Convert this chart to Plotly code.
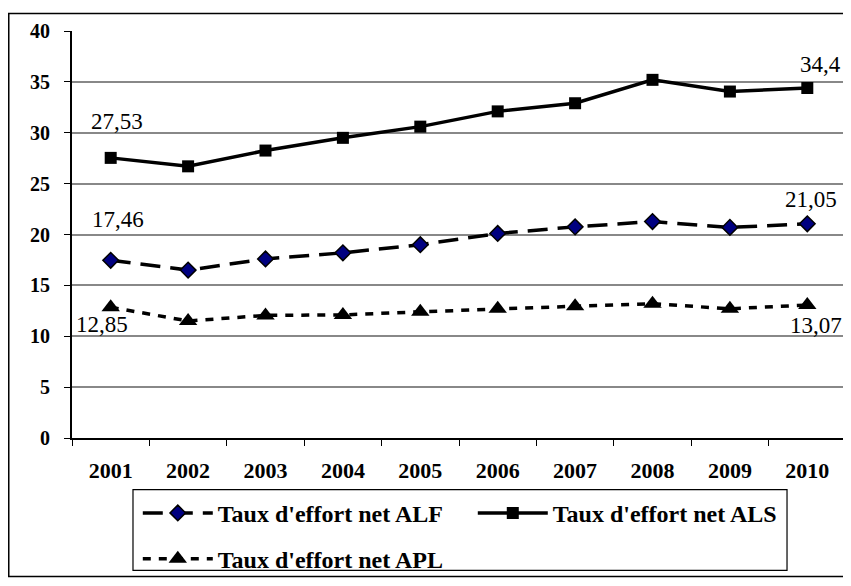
import plotly.graph_objects as go

years = ["2001", "2002", "2003", "2004", "2005", "2006", "2007", "2008", "2009", "2010"]
alf = [17.46, 16.5, 17.6, 18.2, 19.0, 20.1, 20.75, 21.27, 20.7, 21.05]
als = [27.53, 26.7, 28.25, 29.5, 30.6, 32.1, 32.9, 35.2, 34.05, 34.4]
apl = [12.85, 11.5, 12.05, 12.1, 12.4, 12.7, 12.95, 13.2, 12.7, 13.07]
y_ticks = [0, 5, 10, 15, 20, 25, 30, 35, 40]

FONT = "Liberation Serif"

fig = go.Figure()
fig.add_trace(go.Scatter(
    x=years, y=alf, name="Taux d'effort net ALF", mode="lines+markers",
    line=dict(color="black", width=3.5, dash="20px,10px"),
    marker=dict(symbol="diamond", size=12, color="#000080", line=dict(color="black", width=1.5)),
    legend="legend"))
fig.add_trace(go.Scatter(
    x=years, y=als, name="Taux d'effort net ALS", mode="lines+markers",
    line=dict(color="black", width=3.5),
    marker=dict(symbol="square", size=12, color="black"),
    legend="legend"))
fig.add_trace(go.Scatter(
    x=years, y=apl, name="Taux d'effort net APL", mode="lines+markers",
    line=dict(color="black", width=3.5, dash="8px,8px"),
    marker=dict(symbol="triangle-up", size=16, color="black"),
    legend="legend2"))

def fmt(v):
    return f"{v:g}".replace(".", ",")

first, last = 0, len(years) - 1
labels = [
    (first, als[first], 6, 36),
    (first, alf[first], 7, 41),
    (first, apl[first], -9, -17),
    (last, als[last], 13, 23),
    (last, alf[last], 4, 24),
    (last, apl[last], 9, -20),
]
for xi, yv, xs, ys in labels:
    fig.add_annotation(x=xi, y=yv, xref="x", yref="y", text=fmt(yv), showarrow=False,
                       xshift=xs, yshift=ys, font=dict(family=FONT, size=23, color="black"))

# outer border
fig.add_shape(type="rect", xref="paper", yref="paper", x0=-0.0817, x1=1.0039, y0=-0.34, y1=1.043,
              line=dict(color="black", width=1.5), layer="below")
# plot area right border
fig.add_shape(type="line", xref="paper", yref="paper", x0=1, x1=1, y0=0, y1=1,
              line=dict(color="#888888", width=1.5))
# legend box
fig.add_shape(type="rect", xref="paper", yref="paper", x0=0.0788, x1=0.9238, y0=-0.3254, y1=-0.1268,
              line=dict(color="black", width=1.2))

legend_common = dict(orientation="h", xref="paper", yref="paper", xanchor="left", yanchor="middle",
                     font=dict(family=FONT, size=24, color="black", weight="bold"),
                     bgcolor="rgba(0,0,0,0)",
                     borderwidth=0, itemwidth=70, entrywidth=250, entrywidthmode="pixels")

fig.update_layout(
    width=843, height=578,
    margin=dict(l=64, r=5, t=23, b=137),
    paper_bgcolor="white", plot_bgcolor="white",
    showlegend=True,
    legend=dict(x=0.085, y=-0.185, **legend_common),
    legend2=dict(x=0.085, y=-0.2975, **legend_common),
    xaxis=dict(type="category", tickson="boundaries", ticks="outside", ticklen=6, tickcolor="black",
               showline=True, linecolor="black", linewidth=2, showgrid=False,
               tickfont=dict(family=FONT, size=22, color="black", weight="bold"),
               ticklabelstandoff=12, range=[-0.5, 9.5]),
    yaxis=dict(range=[0, 40], tickvals=y_ticks, ticks="outside", ticklen=6, tickcolor="black",
               showline=True, linecolor="black", linewidth=2, showgrid=True, gridcolor="#888888",
               gridwidth=1.5, zeroline=False,
               tickfont=dict(family=FONT, size=20, color="black", weight="bold"),
               ticklabelstandoff=10),
)

fig.write_html("out.html")
